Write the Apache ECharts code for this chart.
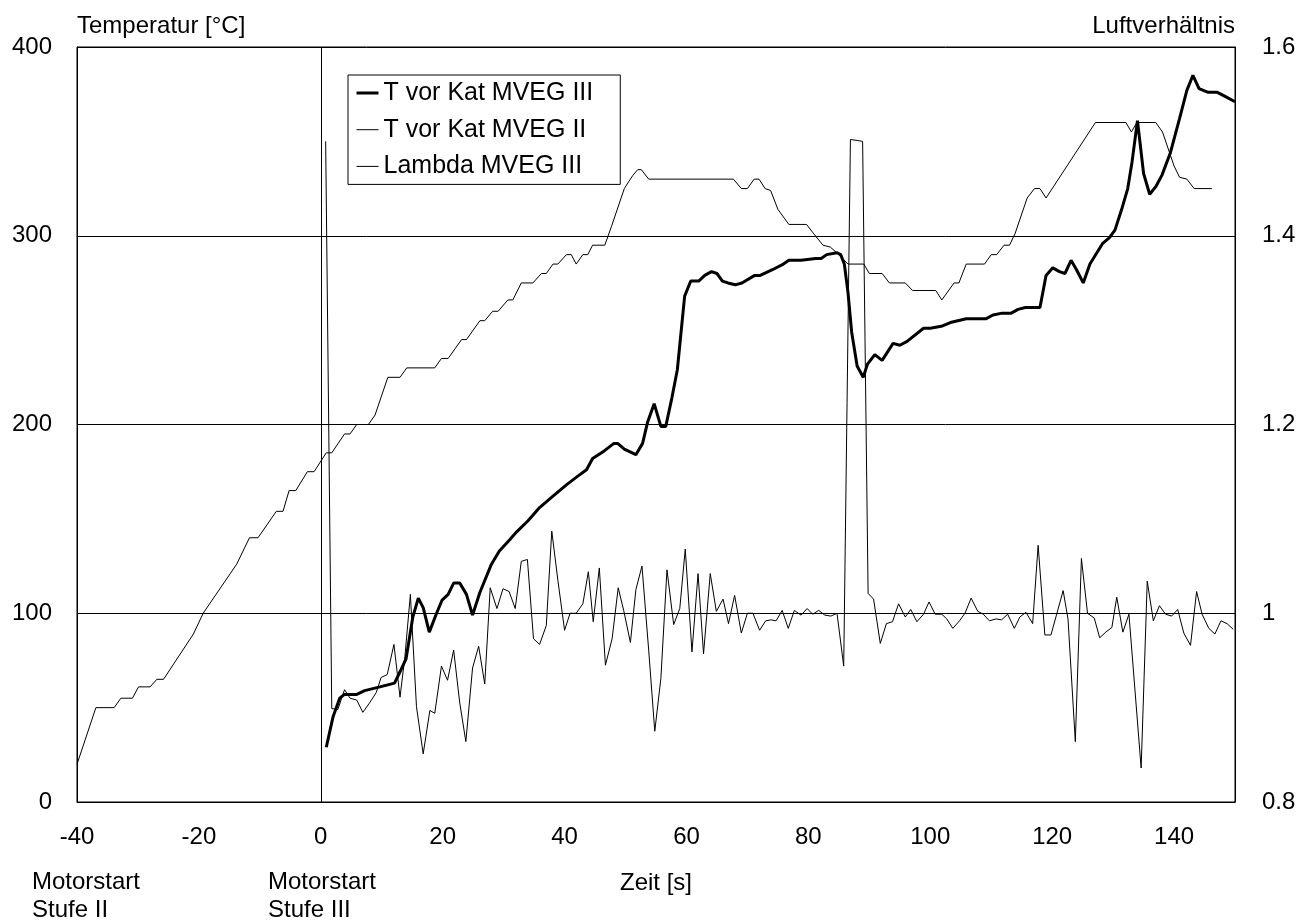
<!DOCTYPE html>
<html>
<head>
<meta charset="utf-8">
<script src="https://cdn.jsdelivr.net/npm/echarts@6/dist/echarts.min.js"></script>
<style>
html,body{margin:0;padding:0;background:#fff;}
#chart{width:1299px;height:920px;}
</style>
</head>
<body>
<div id="chart"></div>
<script>
// ---- Data ----
const xTicks = [-40, -20, 0, 20, 40, 60, 80, 100, 120, 140];
const leftTicks = [0, 100, 200, 300, 400];
const rightTicks = [0.8, 1, 1.2, 1.4, 1.6];

const seriesNames = ["T vor Kat MVEG III", "T vor Kat MVEG II", "Lambda MVEG III"];

// T vor Kat MVEG III  (time [s], temperature [°C])
const tKat3X = [0.9,2.0,3.1,3.9,5.9,7.2,9.7,12.1,13.0,14.0,15.1,16.0,16.8,17.8,19.0,19.9,20.9,21.8,22.8,23.9,24.9,26.1,28.0,29.3,31.0,32.1,34.0,35.9,38.1,40.3,41.9,43.6,44.6,46.5,48.1,48.7,49.8,51.7,52.8,53.6,54.7,55.8,56.6,57.6,58.5,59.7,60.7,62.0,63.0,64.1,65.0,65.9,66.8,68.0,69.1,71.2,72.1,74.1,75.9,76.8,78.8,81.2,82.1,83.0,84.7,85.3,85.9,86.5,87.1,88.0,89.0,89.7,90.9,92.1,93.9,95.0,96.2,98.9,100.0,101.8,103.3,105.9,108.0,109.1,110.3,111.8,113.3,114.4,115.6,117.1,118.0,119.0,120.1,121.2,122.1,123.1,124.0,125.1,126.2,128.3,129.4,130.3,131.5,132.4,133.1,134.0,135.0,136.0,137.0,138.0,139.4,140.9,142.1,143.1,144.1,145.6,147.1,148.3,150.0];
const tKat3Y = [29,45,55,57,57,59,61,63,69,76,98,108,103,90,100,107,110,116,116,110,99,111,126,133,139,143,149,156,162,168,172,176,182,186,190,190,187,184,190,201,211,199,199,214,229,268,276,276,279,281,280,276,275,274,275,279,279,282,285,287,287,288,288,290,291,290,285,270,249,231,225,232,237,234,243,242,244,251,251,252,254,256,256,256,258,259,259,261,262,262,262,279,283,281,280,287,282,275,285,296,299,303,315,325,339,361,333,322,326,332,344,362,377,385,378,376,376,374,371];

// T vor Kat MVEG II  (time [s], temperature [°C])
const tKat2X = [-40,-36.9,-33.9,-32.8,-30.9,-29.9,-28.0,-26.9,-25.8,-20.9,-19.3,-13.8,-11.7,-10.3,-7.3,-6.2,-5.2,-4.1,-2.2,-1.1,0.9,1.8,3.9,4.8,5.9,7.8,8.9,11.0,13.0,14.1,18.7,19.8,20.9,23.1,23.9,26.1,26.9,28.2,29.1,30.7,31.5,32.9,34.8,36.2,37.0,38.1,38.9,40.3,41.1,41.9,43.0,43.8,44.6,46.6,47.7,49.8,51.2,52.0,52.6,53.8,67.7,69.0,70.0,71.1,71.9,72.9,73.8,75.0,76.8,79.7,80.9,82.4,83.6,85.0,86.5,89.1,90.0,92.1,93.3,95.9,97.1,100.9,101.9,103.9,104.7,105.9,108.9,110.0,110.9,112.1,113.0,113.9,115.9,117.1,118.0,119.0,127.1,132.1,133.0,133.9,137.0,138.1,140.0,140.9,142.1,143.3,146.2];
const tKat2Y = [20,50,50,55,55,61,61,65,65,89,100,126,140,140,154,154,165,165,175,175,185,185,195,195,200,200,205,225,225,230,230,235,235,245,245,255,255,260,260,266,266,275,275,280,280,285,285,290,290,285,290,290,295,295,305,325,332,335,335,330,330,325,325,330,330,325,324,314,306,306,301,295,294,290,285,285,280,280,275,275,271,271,266,275,275,285,285,290,290,295,295,301,320,325,325,320,360,360,355,360,360,355,337,331,330,325,325];

// Lambda MVEG III  (time [s], air ratio)
const lambdaX = [0.8,1.8,2.8,3.9,4.8,5.9,6.9,8.0,9.1,9.9,10.9,12.0,13.0,13.8,14.7,15.7,16.8,17.9,18.7,19.8,20.8,21.8,22.8,23.8,24.9,25.9,26.9,27.8,28.9,29.9,30.9,31.9,32.9,33.9,34.9,35.9,37.0,37.9,38.9,40.0,40.9,41.9,43.0,43.9,44.7,45.7,46.7,47.8,48.8,49.7,50.8,51.7,52.7,53.8,54.8,55.8,56.8,57.9,58.9,59.8,60.9,61.9,62.8,63.9,64.9,66.0,66.9,67.9,69.0,70.0,70.9,72.0,73.0,73.9,74.7,75.7,76.7,77.7,78.8,79.8,80.7,81.7,82.7,83.7,84.7,85.8,86.9,88.0,88.9,89.8,90.7,91.8,92.8,93.8,94.8,95.9,96.8,97.8,98.9,99.8,100.8,101.9,102.7,103.7,104.8,105.7,106.7,107.8,108.7,109.7,110.8,111.7,112.7,113.8,114.7,115.7,116.8,117.7,118.8,119.8,120.7,121.8,122.6,123.8,124.8,125.8,126.9,127.8,128.8,129.8,130.6,131.6,132.6,134.6,135.6,136.6,137.6,138.6,139.6,140.6,141.6,142.7,143.7,144.6,145.7,146.7,147.7,148.7,149.7];
const lambdaY = [1.500,0.899,0.898,0.919,0.910,0.908,0.895,0.905,0.916,0.932,0.935,0.967,0.911,0.954,1.020,0.901,0.851,0.897,0.894,0.944,0.929,0.961,0.905,0.864,0.942,0.965,0.925,1.027,1.005,1.026,1.023,1.005,1.055,1.057,0.973,0.967,0.987,1.087,1.035,0.982,1.000,1.000,1.010,1.044,0.991,1.048,0.945,0.973,1.027,1.003,0.969,1.025,1.050,0.961,0.875,0.931,1.046,0.988,1.005,1.068,0.959,1.042,0.957,1.042,1.002,1.015,0.989,1.019,0.979,1.000,1.000,0.982,0.992,0.993,0.992,1.003,0.984,1.003,0.998,1.005,0.999,1.003,0.998,0.997,1.000,0.944,1.502,1.501,1.500,1.021,1.015,0.968,0.989,0.991,1.010,0.996,1.004,0.991,0.999,1.012,0.999,0.999,0.994,0.984,0.992,1.000,1.016,1.002,0.999,0.992,0.994,0.993,0.999,0.984,0.996,1.001,0.989,1.072,0.977,0.977,0.998,1.024,0.994,0.864,1.058,1.000,0.995,0.974,0.980,0.985,1.017,0.980,0.999,0.836,1.034,0.992,1.008,0.999,0.997,1.004,0.979,0.966,1.023,0.999,0.984,0.978,0.992,0.989,0.983];

const engineStartX = 0;

// ---- Chart ----
const FONT = "'Liberation Sans', Arial, sans-serif";
const pairs = (xs, ys) => xs.map((x, i) => [x, ys[i]]);
const lineWidths = [3, 1, 1];

const chart = echarts.init(document.getElementById('chart'), null, {renderer: 'canvas'});
chart.setOption({
  animation: false,
  backgroundColor: '#ffffff',
  textStyle: {fontFamily: FONT, color: '#000'},
  grid: {left: 77, right: 64, top: 47, bottom: 118, show: true, borderColor: '#000', borderWidth: 1, containLabel: false},
  legend: {
    orient: 'vertical',
    left: 348, top: 75,
    padding: [4, 27, 4, 7],
    itemWidth: 22, itemHeight: 14, itemGap: 8.7,
    borderColor: '#000', borderWidth: 1,
    itemStyle: {color: 'rgba(0,0,0,0)', borderWidth: 0, opacity: 0},
    textStyle: {fontFamily: FONT, fontSize: 25, color: '#000', lineHeight: 28},
    data: seriesNames.map((n, i) => ({name: n, lineStyle: {width: lineWidths[i], color: '#000'}}))
  },
  xAxis: {
    type: 'value', min: xTicks[0], max: 150, interval: 20,
    name: 'Zeit [s]', nameLocation: 'middle', nameGap: 81,
    nameTextStyle: {fontFamily: FONT, fontSize: 24, color: '#000', verticalAlign: 'middle'},
    axisLine: {show: true, onZero: false, lineStyle: {color: '#000', width: 1}},
    axisTick: {show: false},
    splitLine: {show: false},
    axisLabel: {fontFamily: FONT, fontSize: 24, color: '#000', margin: 23,
      formatter: v => (xTicks.indexOf(v) >= 0 ? String(v) : '')}
  },
  yAxis: [{
    type: 'value', min: leftTicks[0], max: leftTicks[leftTicks.length - 1], interval: 100,
    name: 'Temperatur [°C]', nameLocation: 'end', nameGap: 21,
    nameTextStyle: {fontFamily: FONT, fontSize: 24, color: '#000', align: 'left', verticalAlign: 'middle'},
    axisLine: {show: true, onZero: false, lineStyle: {color: '#000'}},
    axisTick: {show: false},
    splitLine: {show: true, lineStyle: {color: '#000', width: 1}},
    axisLabel: {fontFamily: FONT, fontSize: 24, color: '#000', margin: 25}
  }, {
    type: 'value', min: rightTicks[0], max: rightTicks[rightTicks.length - 1], interval: 0.2,
    position: 'right',
    name: 'Luftverhältnis', nameLocation: 'end', nameGap: 21,
    nameTextStyle: {fontFamily: FONT, fontSize: 24, color: '#000', align: 'right', verticalAlign: 'middle'},
    axisLine: {show: true, onZero: false, lineStyle: {color: '#000'}},
    axisTick: {show: false},
    splitLine: {show: false},
    axisLabel: {fontFamily: FONT, fontSize: 24, color: '#000', margin: 27,
      formatter: v => String(Math.round(v * 10) / 10)}
  }],
  graphic: [
    {type: 'text', left: 32, top: 868, style: {text: 'Motorstart\nStufe II', font: '24px ' + FONT, fill: '#000', lineHeight: 28}},
    {type: 'text', left: 268, top: 868, style: {text: 'Motorstart\nStufe III', font: '24px ' + FONT, fill: '#000', lineHeight: 28}}
  ],
  series: [{
    name: seriesNames[0], type: 'line', yAxisIndex: 0,
    data: pairs(tKat3X, tKat3Y), symbol: 'none', z: 5,
    lineStyle: {color: '#000', width: lineWidths[0]}, itemStyle: {color: '#000'},
    markLine: {
      silent: true, symbol: 'none', label: {show: false},
      lineStyle: {color: '#000', width: 1, type: 'solid'},
      data: [{xAxis: engineStartX}]
    }
  }, {
    name: seriesNames[1], type: 'line', yAxisIndex: 0,
    data: pairs(tKat2X, tKat2Y), symbol: 'none', z: 4,
    lineStyle: {color: '#000', width: lineWidths[1]}, itemStyle: {color: '#000'}
  }, {
    name: seriesNames[2], type: 'line', yAxisIndex: 1,
    data: pairs(lambdaX, lambdaY), symbol: 'none', z: 3,
    lineStyle: {color: '#000', width: lineWidths[2]}, itemStyle: {color: '#000'}
  }]
});
</script>
</body>
</html>
